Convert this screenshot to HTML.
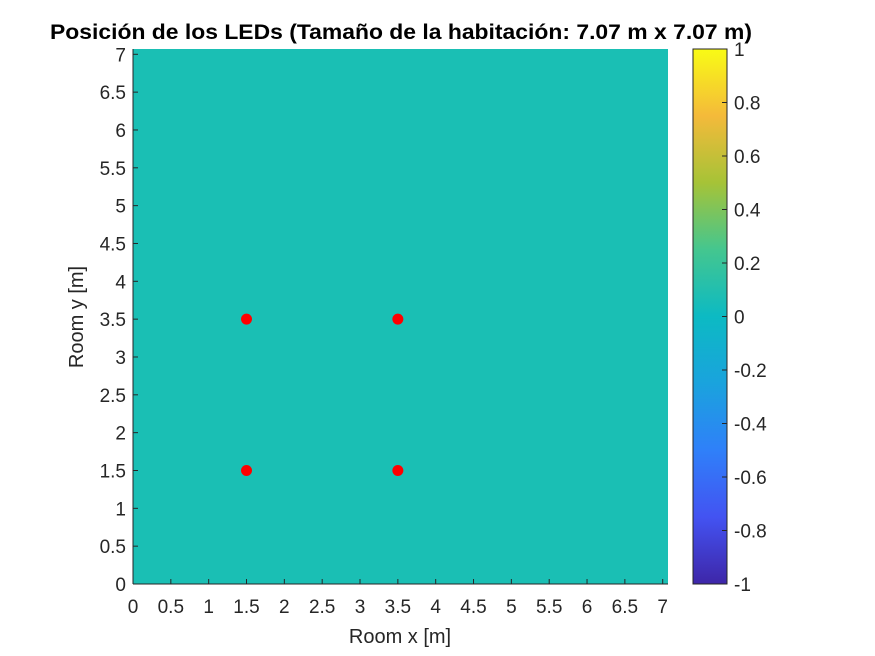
<!DOCTYPE html>
<html><head><meta charset="utf-8"><style>body{margin:0;background:#fff}svg{display:block;font-family:"Liberation Sans",sans-serif}</style></head>
<body>
<svg id="c" width="875" height="656">
<defs><linearGradient id="parula" x1="0" y1="1" x2="0" y2="0">
<stop offset="0" stop-color="#3e26a8"/><stop offset="0.125" stop-color="#4353f2"/><stop offset="0.25" stop-color="#2f80f9"/><stop offset="0.375" stop-color="#1aa3dd"/><stop offset="0.5" stop-color="#0cbac3"/><stop offset="0.625" stop-color="#44c68f"/><stop offset="0.75" stop-color="#a6c337"/><stop offset="0.875" stop-color="#f4ba3a"/><stop offset="1" stop-color="#f9fb15"/></linearGradient></defs>
</svg>
<script>
const ledX=[1.5,1.5,3.5,3.5];
const ledY=[1.5,3.5,1.5,3.5];
const xTicks=[0,0.5,1,1.5,2,2.5,3,3.5,4,4.5,5,5.5,6,6.5,7];
const yTicks=[0,0.5,1,1.5,2,2.5,3,3.5,4,4.5,5,5.5,6,6.5,7];
const cbTicks=[-1,-0.8,-0.6,-0.4,-0.2,0,0.2,0.4,0.6,0.8,1];
const roomSize=7.07;
const L=133,R=668,T=49,B=584;
const sx=v=>L+v/roomSize*(R-L), sy=v=>B-v/roomSize*(B-T);
const cy=v=>B-(v+1)/2*(B-T);
const s=document.getElementById('c'),NS='http://www.w3.org/2000/svg';
function mk(t,a,txt){const e=document.createElementNS(NS,t);for(const k in a)e.setAttribute(k,a[k]);if(txt!==undefined)e.textContent=txt;s.appendChild(e);return e;}
let e=mk('rect',{x:L,y:T,width:R-L,height:B-T,fill:'#1abfb4'});


e=mk('line',{x1:L,y1:B,x2:R,y2:B,stroke:'#262626'});


e=mk('line',{x1:L,y1:T,x2:L,y2:B,stroke:'#262626'});


xTicks.forEach(v=>{const x=sx(v);mk('line',{x1:x,y1:B,x2:x,y2:B-5,stroke:'#262626'});
e=mk('text',{x:x,y:B+29,'text-anchor':'middle','font-size':19,fill:'#262626'},String(v));

});
yTicks.forEach(v=>{const y=sy(v);mk('line',{x1:L,y1:y,x2:L+5,y2:y,stroke:'#262626'});
e=mk('text',{x:L-7,y:y+7,'text-anchor':'end','font-size':19,fill:'#262626'},String(v));

});
ledX.forEach((v,i)=>{e=mk('circle',{cx:sx(v),cy:sy(ledY[i]),r:5.5,fill:'#ff0000'});

});
e=mk('rect',{x:693,y:T,width:34,height:B-T,fill:'url(#parula)',stroke:'#262626'});


cbTicks.forEach(v=>{const y=cy(v);mk('line',{x1:722,y1:y,x2:727,y2:y,stroke:'#262626'});
e=mk('text',{x:734,y:y+7,'font-size':19,fill:'#262626'},String(v));

});
e=mk('text',{x:400,y:643,'text-anchor':'middle','font-size':20,fill:'#262626'},'Room x [m]');


e=mk('text',{x:0,y:0,'text-anchor':'middle','font-size':20,fill:'#262626',transform:'translate(83,317) rotate(-90)'},'Room y [m]');


e=mk('text',{x:50,y:39,'font-size':21,'font-weight':'bold',fill:'#000',textLength:702,lengthAdjust:'spacingAndGlyphs'},'Posición de los LEDs (Tamaño de la habitación: 7.07 m x 7.07 m)');


</script>
</body></html>
